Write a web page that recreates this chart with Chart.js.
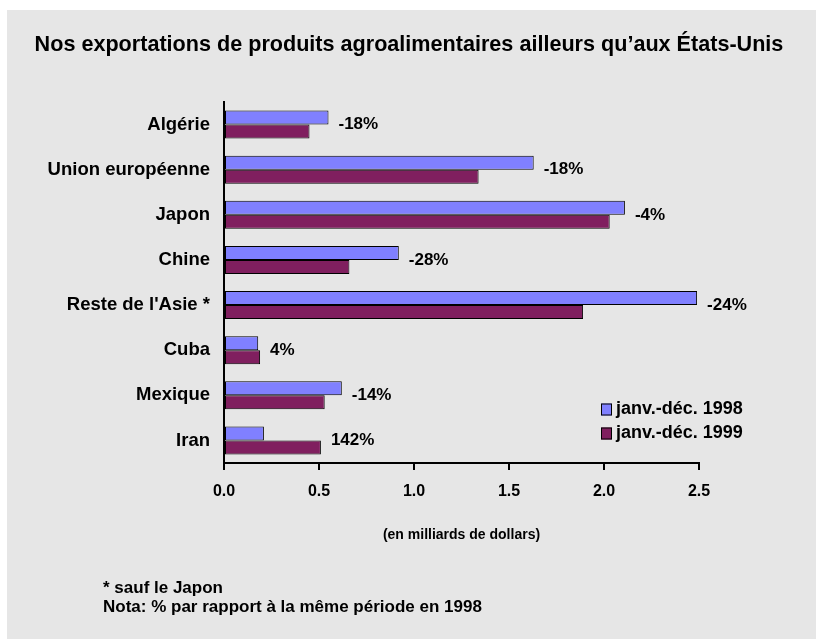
<!DOCTYPE html>
<html>
<head>
<meta charset="utf-8">
<script src="https://cdn.jsdelivr.net/npm/chart.js@4.4.1/dist/chart.umd.min.js"></script>
<style>
  html, body { margin:0; padding:0; background:#ffffff; }
  #panel { position:absolute; left:7px; top:10px; width:809px; height:629px; background:#e6e6e6; }
  #wrap { position:absolute; left:0; top:0; width:816px; height:639px; }
</style>
</head>
<body>
<div id="panel"></div>
<div id="wrap"><canvas id="chart" width="816" height="639"></canvas></div>
<script>
// categories / valeurs (milliards $)
const pays = ["Algérie","Union européenne","Japon","Chine","Reste de l'Asie *","Cuba","Mexique","Iran"];
const val1998 = [0.55, 1.63, 2.11, 0.92, 2.49, 0.18, 0.62, 0.21];
const val1999 = [0.45, 1.34, 2.03, 0.66, 1.89, 0.19, 0.53, 0.51];
const variation = ["-18%","-18%","-4%","-28%","-24%","4%","-14%","142%"];
const xTicks = [0, 0.5, 1.0, 1.5, 2.0, 2.5];
const series = ["janv.-déc. 1998","janv.-déc. 1999"];
const couleurs = ["#8080ff","#801f5f"];

const titre = "Nos exportations de produits agroalimentaires ailleurs qu’aux États-Unis";
const notes = ["* sauf le Japon", "Nota: % par rapport à la même période en 1998"];

const FONT = "'Liberation Sans', Arial, sans-serif";

// titre, etiquettes %, legende, notes
const extras = {
  id: "extras",
  afterDatasetsDraw(chart){
    const ctx = chart.ctx;
    const m0 = chart.getDatasetMeta(0), m1 = chart.getDatasetMeta(1);
    const yS = chart.scales.y;
    ctx.save();
    ctx.fillStyle = "#000";
    ctx.textBaseline = "middle";

    ctx.font = "bold 21.6px " + FONT;
    ctx.textAlign = "center";
    ctx.fillText(titre, 409, 45);

    ctx.textAlign = "left";
    ctx.font = "bold 17px " + FONT;
    variation.forEach((t,i)=>{
      const xe = Math.max(m0.data[i].x, m1.data[i].x);
      ctx.fillText(t, xe + 10, yS.getPixelForValue(i));
    });

    // legende
    ctx.font = "bold 18px " + FONT;
    series.forEach((s,i)=>{
      const y = 409.5 + i*24;
      ctx.fillStyle = couleurs[i];
      ctx.fillRect(601, y-6, 11, 12);
      ctx.strokeStyle = "#000"; ctx.lineWidth = 1;
      ctx.strokeRect(601.5, y-5.5, 10, 11);
      ctx.fillStyle = "#000";
      ctx.fillText(s, 616, y);
    });

    ctx.font = "bold 17px " + FONT;
    ctx.fillText(notes[0], 103, 588);
    ctx.fillText(notes[1], 103, 607);
    ctx.restore();
  }
};

new Chart(document.getElementById("chart"), {
  type: "bar",
  data: {
    labels: pays,
    datasets: [
      { label: series[0], data: val1998, backgroundColor: couleurs[0], borderColor:"#000", borderWidth:1, borderSkipped:false },
      { label: series[1], data: val1999, backgroundColor: couleurs[1], borderColor:"#000", borderWidth:1, borderSkipped:false }
    ]
  },
  options: {
    indexAxis: "y",
    responsive: false,
    animation: false,
    devicePixelRatio: 1,
    layout: { padding: { left:0, right:117, top:102, bottom:90 } },
    datasets: { bar: { barPercentage: 1.0, categoryPercentage: 0.62 } },
    plugins: {
      legend: { display:false },
      tooltip: { enabled:false },
      title: { display:false }
    },
    scales: {
      x: {
        min: 0, max: 2.5,
        afterBuildTicks(s){ s.ticks = xTicks.map(v=>({value:v})); },
        afterFit(s){ s.height = 86; },
        grid: { drawOnChartArea:false, drawTicks:true, tickLength:7, color:"#000", lineWidth:2 },
        border: { display:true, color:"#000", width:2 },
        ticks: { color:"#000", padding:12, font:{ family:FONT, size:16, weight:"bold" }, callback:(v)=>Number(v).toFixed(1) },
        title: { display:true, text:"(en milliards de dollars)", color:"#000", font:{ family:FONT, size:14, weight:"bold" }, padding:{ top:0, bottom:5 } }
      },
      y: {
        afterFit(s){ s.width = 224; },
        grid: { display:false, drawTicks:false },
        border: { display:true, color:"#000", width:2 },
        ticks: { color:"#000", padding:14, font:{ family:FONT, size:18.5, weight:"bold" } }
      }
    }
  },
  plugins: [extras]
});
</script>
</body>
</html>
